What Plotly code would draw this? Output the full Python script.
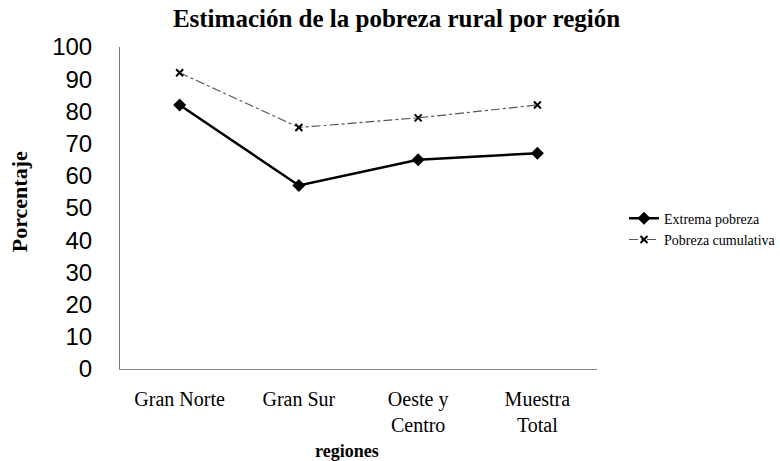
import plotly.graph_objects as go

categories = ["Gran Norte", "Gran Sur", "Oeste y<br>Centro", "Muestra<br>Total"]
extrema = [82, 57, 65, 67]
cumulativa = [92, 75, 78, 82]
y_ticks = [0, 10, 20, 30, 40, 50, 60, 70, 80, 90, 100]

serif = "Liberation Serif, Times New Roman, serif"
sans = "Liberation Sans, Arial, sans-serif"

# plot area target in screenshot pixels: x 120..597, y 46.5..369
L, T, R_EDGE, B_EDGE = 120, 46.5, 597, 369
W, H = 780, 461
plot_h = B_EDGE - T
plot_w = R_EDGE - L

fig = go.Figure()
fig.add_trace(go.Scatter(
    x=categories, y=extrema, name="Extrema pobreza", mode="lines+markers",
    line=dict(color="black", width=2.5),
    marker=dict(symbol="diamond", size=10, color="black"),
))
fig.add_trace(go.Scatter(
    x=categories, y=cumulativa, name="Pobreza cumulativa", mode="lines+markers",
    line=dict(color="#555555", width=1.2, dash="dashdot"),
    marker=dict(symbol="x-thin", size=7, color="black", line=dict(width=2, color="black")),
))

fig.update_layout(
    width=W, height=H,
    margin=dict(l=L, r=W - R_EDGE, t=T, b=H - B_EDGE, autoexpand=False),
    paper_bgcolor="white", plot_bgcolor="white",
    title=dict(text="<b>Estimación de la pobreza rural por región</b>",
               font=dict(family=serif, size=25, color="black"),
               x=396.5 / W, xref="container", xanchor="center",
               y=1 - 18 / H, yanchor="middle"),
    showlegend=True,
    legend=dict(x=(624 - L) / plot_w, y=(B_EDGE - 229) / plot_h, xanchor="left", yanchor="middle",
                font=dict(family=serif, size=14, color="black"),
                bgcolor="rgba(0,0,0,0)", tracegroupgap=0, itemwidth=30),
    xaxis=dict(type="category", range=[-0.5, 3.5], showgrid=False, zeroline=False,
               showline=True, linecolor="#888888", linewidth=1,
               ticks="", tickfont=dict(family=serif, size=20, color="black"),
               ticklabelstandoff=12, automargin=False),
    yaxis=dict(range=[0, 100], tickvals=y_ticks, showgrid=False, zeroline=False,
               showline=True, linecolor="#777777", linewidth=1,
               ticks="", tickfont=dict(family=sans, size=24, color="black"),
               ticklabelstandoff=22, automargin=False),
    annotations=[
        dict(text="<b>Porcentaje</b>", x=(19 - L) / plot_w, y=(B_EDGE - 202) / plot_h,
             xref="paper", yref="paper", xanchor="center", yanchor="middle",
             showarrow=False, textangle=-90, font=dict(family=serif, size=22, color="black")),
        dict(text="<b>regiones</b>", x=(347 - L) / plot_w, y=(B_EDGE - 451) / plot_h,
             xref="paper", yref="paper", xanchor="center", yanchor="middle", showarrow=False,
             font=dict(family=serif, size=18, color="black")),
    ],
)

fig.write_html("out.html", config={"displayModeBar": False},
               post_script="document.body.style.margin='0';")
